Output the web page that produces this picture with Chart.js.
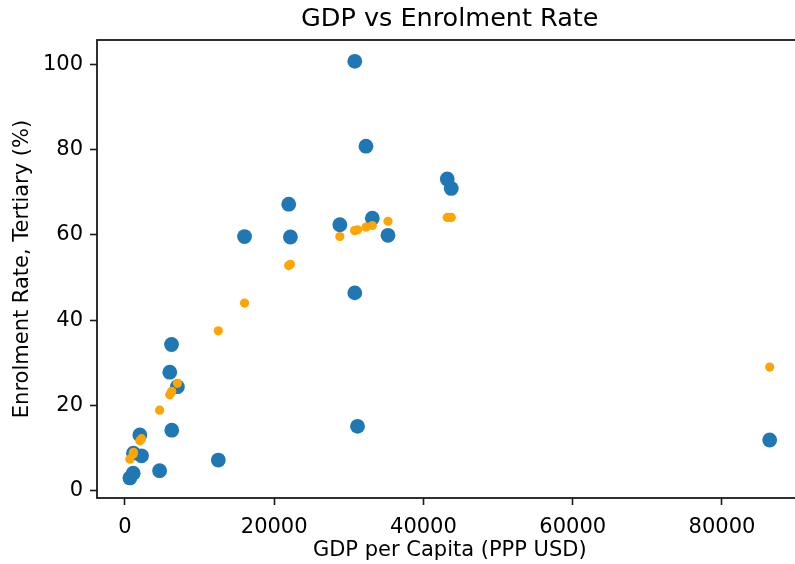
<!DOCTYPE html>
<html>
<head>
<meta charset="utf-8">
<script src="https://cdn.jsdelivr.net/npm/chart.js@4"></script>
<style>
  body { margin: 0; overflow: hidden; background: #fff; }
  #wrap { width: 810px; height: 564px; }
</style>
</head>
<body>
<div id="wrap"><canvas id="scatter" width="810" height="564"></canvas></div>
<script>
// GDP per capita (PPP USD) for each country
const gdpPerCapita = [668, 1113, 1150, 2230, 2004, 4650, 6012, 6250, 6279, 7035, 12518, 16031,
  21950, 22176, 28800, 30800, 30800, 31170, 32300, 33150, 35250, 43190, 43725, 86390]
// actual tertiary enrolment rate (%)
const enrolment = [3.0, 4.1, 8.8, 8.2, 13.1, 4.7, 27.8, 34.3, 14.2, 24.4, 7.2, 59.6,
  67.2, 59.5, 62.4, 100.7, 46.4, 15.1, 80.8, 63.9, 59.9, 73.1, 70.9, 11.9]
// predicted enrolment rate (%)
const predicted = [7.4, 8.6, 9.0, 12.2, 11.7, 18.9, 22.5, 23.2, 23.3, 25.2, 37.5, 44.0,
  52.8, 53.1, 59.6, 61.0, 61.0, 61.2, 61.8, 62.2, 63.2, 64.1, 64.1, 29.0]
const xTicks = [0, 20000, 40000, 60000, 80000]
const yTicks = [0, 20, 40, 60, 80, 100]

const blue = "#1f77b4"
const orange = "#ffa500"
const ink = "#1a1a1a"

Chart.defaults.font.family = "'DejaVu Sans', sans-serif"
Chart.defaults.font.size = 21
Chart.defaults.color = "#000"

const toPoints = (ys) => gdpPerCapita.map((x, i) => ({ x: x, y: ys[i] }))

// matplotlib style box round the plot area
const frame = {
  id: 'frame',
  afterDraw(chart) {
    const { ctx, chartArea: a } = chart
    ctx.save()
    ctx.strokeStyle = ink
    ctx.lineWidth = 1.8
    ctx.strokeRect(a.left, a.top, a.right - a.left, a.bottom - a.top)
    ctx.restore()
  }
}

const axisGrid = { drawOnChartArea: false, drawTicks: true, tickLength: 7, tickColor: ink, tickWidth: 1.6 }

new Chart(document.getElementById("scatter").getContext("2d"), {
  type: 'scatter',
  data: {
    datasets: [
      {
        label: "predicted",
        data: toPoints(predicted),
        backgroundColor: orange,
        borderWidth: 0,
        pointRadius: 4.6
      },
      {
        label: "actual",
        data: toPoints(enrolment),
        backgroundColor: blue,
        borderWidth: 0,
        pointRadius: 7.4
      }
    ]
  },
  options: {
    responsive: false,
    animation: false,
    devicePixelRatio: 1,
    layout: { padding: { right: 6 } },
    plugins: {
      legend: { display: false },
      tooltip: { enabled: false },
      title: {
        display: true,
        text: "GDP vs Enrolment Rate",
        fullSize: false,
        color: "#000",
        font: { size: 25.5, weight: 'normal' },
        padding: { top: 4, bottom: 5.4 }
      }
    },
    scales: {
      x: {
        type: 'linear',
        min: -3737,
        max: 90800,
        afterFit: (scale) => { scale.height = 66 },
        afterBuildTicks: (scale) => { scale.ticks = xTicks.map(v => ({ value: v })) },
        ticks: { padding: 10, maxRotation: 0, callback: (v) => String(v) },
        grid: axisGrid,
        border: { display: false },
        title: { display: true, text: "GDP per Capita (PPP USD)", padding: { top: 0, bottom: 1 } }
      },
      y: {
        type: 'linear',
        min: -1.7,
        max: 105.7,
        afterFit: (scale) => { scale.width = 97 },
        afterBuildTicks: (scale) => { scale.ticks = yTicks.map(v => ({ value: v })) },
        ticks: { padding: 7, callback: (v) => String(v) },
        grid: axisGrid,
        border: { display: false },
        title: { display: true, text: "Enrolment Rate, Tertiary (%)", padding: { top: 10, bottom: 4 } }
      }
    }
  },
  plugins: [frame]
})
</script>
</body>
</html>
